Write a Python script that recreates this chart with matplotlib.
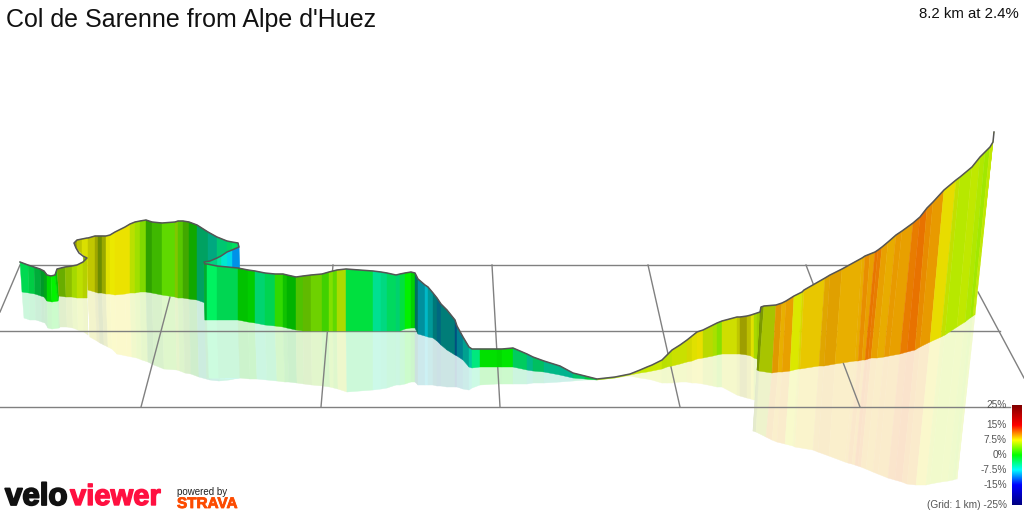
# plot.py
# VeloViewer 3D climb profile redrawn as a projected wall with a pale reflection

import matplotlib
matplotlib.use('Agg')
import matplotlib.pyplot as plt
import matplotlib.patheffects as pe
import numpy as np
from matplotlib.collections import PolyCollection
from matplotlib.colors import LinearSegmentedColormap

plt.rcParams['font.family'] = ['Liberation Sans', 'DejaVu Sans']

TITLE = "Col de Sarenne from Alpe d'Huez"
SUMMARY = "8.2 km at 2.4%"

# projected route. Sections in order:
# first stretch / fold + back wall / turn back / the long run to the summit
top_x = [20, 28, 34, 40, 44, 47, 51, 55, 57, 65, 72, 77, 83, 87,
         83, 79, 76,
         74, 77, 82, 87, 88, 95, 98, 102, 106, 110, 115, 125, 130, 135, 140, 146, 152, 162,
         175, 178, 183, 189, 197, 208, 217, 227, 232, 238,
         239, 232, 227, 221, 217, 210, 204,
         205, 207, 217, 238, 248, 255, 265, 275, 283, 287, 296, 303, 311, 322, 329,
         333, 337, 346, 373, 381, 387, 396, 400, 405, 411, 415, 418, 425, 428, 433,
         437, 441, 447, 455, 457,
         463, 469, 472, 480, 497, 502, 513, 527, 533, 544, 560, 573, 585, 597,
         615, 630, 640, 647, 652, 662, 667, 672, 680, 687, 692, 697, 703, 713, 717,
         722, 737, 740, 747, 751, 754, 757, 760,
         761, 764, 776, 782, 786, 794, 802, 804, 825, 830, 842, 862, 865, 870, 875,
         878, 882, 888, 896, 902, 913, 920, 927, 933, 944, 956, 960, 972, 980, 985, 990, 993, 994]
top_y = [262, 265, 267, 269, 271, 275, 276, 275, 269, 267, 266, 265, 262, 258,
         256, 253, 248,
         243, 240, 239, 238, 238, 236, 236, 236, 236, 235, 232, 227, 224, 222, 221, 220, 222, 223,
         222, 221, 221, 222, 225, 232, 237, 241, 242, 243,
         247, 250, 252, 256, 258, 261, 262,
         264, 264, 266, 268, 270, 271, 273, 274, 274, 275, 277, 276, 275, 274, 272,
         271, 270, 269, 271, 272, 273, 275, 274, 273, 272, 273, 279, 285, 287, 293,
         298, 304, 310, 320, 326,
         337, 347, 349, 349, 349, 349, 348, 354, 357, 361, 366, 373, 376, 379,
         377, 374, 370, 367, 365, 360, 355, 350, 345, 340, 336, 332, 330, 325, 323,
         321, 317, 317, 316, 315, 314, 313, 312,
         307, 306, 305, 303, 301, 296, 292, 290, 278, 275, 269, 258, 256, 254, 252,
         250, 247, 242, 235, 231, 223, 217, 208, 202, 190, 180, 177, 167, 157, 152, 147, 142, 132]
bot_x = [22, 29, 35, 41, 44, 47, 52, 58, 59, 66, 72, 77, 83, 87,
         83, 79, 76,
         74, 77, 82, 87, 88, 95, 98, 102, 106, 110, 115, 125, 130, 135, 140, 146, 152, 162,
         175, 178, 183, 189, 197, 208, 217, 227, 232, 238,
         240, 232, 227, 221, 217, 210, 205,
         205, 207, 217, 238, 248, 255, 265, 275, 283, 287, 296, 303, 311, 322, 329,
         333, 337, 346, 373, 381, 387, 396, 400, 405, 411, 415, 418, 425, 428, 433,
         437, 441, 447, 455, 457,
         463, 469, 472, 480, 497, 502, 513, 527, 533, 544, 560, 573, 585, 597,
         615, 630, 640, 647, 652, 662, 667, 672, 680, 687, 692, 697, 703, 713, 717,
         722, 737, 740, 747, 751, 754, 757, 760,
         757, 759, 772, 778, 782, 790, 798, 800, 819, 824, 835, 855, 858, 862, 865,
         868, 871, 877, 884, 889, 900, 907, 915, 920, 930, 941, 945, 957, 965, 970, 973, 974, 975]
bot_y = [292, 293, 294, 296, 297, 301, 302, 301, 296, 297, 297, 298, 298, 298,
         256, 253, 248,
         243, 249, 254, 258, 290, 292, 293, 293, 294, 294, 295, 294, 293, 293, 292, 292, 293, 295,
         297, 298, 298, 299, 300, 304, 307, 309, 311, 312,
         313, 314, 315, 316, 317, 318, 320,
         320, 320, 320, 320, 322, 323, 325, 326, 327, 328, 330, 331, 331, 331, 331,
         331, 331, 331, 331, 331, 331, 331, 331, 329, 328, 328, 334, 336, 337, 338,
         341, 345, 350, 355, 356,
         360, 367, 368, 367, 367, 367, 367, 370, 371, 372, 375, 378, 379, 380,
         378, 375, 373, 372, 371, 369, 367, 366, 364, 362, 361, 359, 358, 356, 355,
         354, 354, 354, 355, 356, 358, 359, 360,
         370, 371, 373, 372, 372, 371, 369, 369, 366, 366, 364, 361, 361, 360, 360,
         359, 358, 358, 357, 356, 354, 352, 350, 347, 342, 337, 335, 327, 322, 318, 316, 315, 315]
ref_x = [24, 30, 36, 42, 45, 48, 52, 59, 60, 67, 73, 78, 84, 88,
         83, 79, 76,
         74, 77, 82, 87, 90, 97, 100, 104, 108, 112, 117, 127, 132, 137, 142, 148, 154, 164,
         177, 180, 185, 191, 199, 210, 219, 229, 234, 240,
         245, 238, 232, 225, 220, 212, 207,
         207, 209, 219, 240, 250, 257, 267, 277, 285, 289, 297, 304, 312, 323, 330,
         334, 338, 347, 373, 381, 387, 396, 400, 405, 411, 415, 418, 425, 428, 433,
         437, 441, 447, 455, 457,
         463, 469, 472, 480, 497, 502, 513, 527, 533, 544, 560, 573, 585, 597,
         615, 630, 640, 647, 652, 662, 667, 672, 680, 687, 692, 697, 703, 713, 717,
         722, 737, 740, 747, 751, 754, 757, 760,
         753, 756, 766, 772, 777, 785, 793, 795, 813, 818, 829, 845, 848, 852, 855,
         858, 861, 866, 873, 878, 888, 895, 902, 907, 916, 926, 930, 941, 948, 953, 956, 957, 957]
ref_y = [318, 320, 320, 322, 323, 328, 329, 328, 327, 327, 328, 330, 332, 335,
         256, 253, 248,
         243, 249, 254, 258, 337, 341, 343, 345, 347, 349, 354, 356, 357, 358, 360, 362, 365, 369,
         370, 371, 373, 374, 377, 380, 381, 380, 379, 378,
         377, 378, 379, 379, 379, 379, 378,
         378, 378, 378, 378, 379, 379, 380, 381, 382, 382, 383, 384, 385, 386, 387,
         388, 389, 392, 390, 389, 388, 385, 385, 384, 382, 382, 385, 385, 385, 385,
         386, 386, 387, 387, 387,
         389, 390, 388, 385, 384, 384, 384, 384, 383, 383, 382, 381, 380, 380,
         378, 376, 378, 379, 380, 383, 383, 383, 382, 382, 383, 383, 384, 386, 387,
         387, 395, 396, 398, 399, 400, 400, 400,
         431, 432, 437, 440, 442, 444, 446, 447, 450, 452, 456, 462, 463, 464, 465,
         466, 467, 469, 472, 474, 478, 480, 482, 484, 485, 485, 484, 482, 481, 480, 479, 479, 479]

# gradient (%) and how lit the wall is, one value per stretch between two stations
grades = [-2.8, -2.5, -2.5, -2, -1, 0, 0, 0, 4.5, 5.5, 5.7, 6.3, 6.5,
          6, 6, 6, 6,
          7.2, 7.2, 7.3, 7.3, 7.3, 7.2, 5.8, 6.8, 7.5, 7.6, 7.8, 7.8, 6.2, 5.3, 4.4, 2.2, 2.6,
          3.3, 4.8, 3.3, 2.9, 0.7, -4.5, -5.7, -4.2, -3.5, -3.2,
          -10, -10.3, -8.1, -6.7, -5, -4.6, -3.5,
          -2, -2, -3, -2.9, 0, 0, -4, -2.9, 1.7, 0.6, 0, 3.1, 3.9, 4, 2.3, 4.3, 3.3, 5.8,
          -2.1, -4.8, -4.4, -3.3, -4, -2.1, 0, 0, -6.4, -8.2, -8.1, -7.5, -7.5, -8.9, -7.2, -7.2, -10.3,
          -8.3, -6.7, -6, -4.1, 0, 0, 0, -3.5, -5.5, -3.8, -5.5, -6, -4, -2,
          5.3, 6, 6.5, 6.3, 6.5, 6.5, 6.2, 6.3, 6.7, 6.7, 7.3, 7.5, 7.8, 6.4, 5.6,
          4.5, 7, 7.2, 7.5, 7.4, 7.5, 5.8, 5.8,
          6, 6, 6.4, 9.9, 9.3, 9.8, 7.1, 7.5, 8.5, 9.4, 9.6, 9.3, 9.4, 10.4, 9.8, 11.2,
          11, 9.8, 9.4, 10, 9.8, 11, 11.3, 10.5, 10, 7.9, 6.5, 5.9, 6.2, 5.7, 5.2, 6.2, 6.2]
lighting = [.85, .8, .68, .6, .65, .85, .95, .8, .68, .75, .85, .88, .82,
            .7, .7, .7, .7,
            .62, .78, .88, .88, .78, .65, .55, .66, .88, .92, .92, .92, .88, .88, .85, .63, .72,
            .85, .78, .78, .66, .66, .63, .66, .78, .82, .88,
            .9, .91, .91, .91, .91, .82, .82,
            .68, .68, .95, .84, .76, .8, .83, .83, .85, .76, .7, .76, .73, .82, .82, .88, .85, .86,
            .88, .88, .85, .85, .82, .88, .94, .82, .44, .62, .78, .6, .47, .5, .49, .49, .5,
            .56, .63, .78, .91, .88, .85, .9, .8, .72, .75, .72, .7, .78, .8,
            .88, .9, .91, .91, .91, .91, .88, .88, .88, .88, .85, .88, .91, .85, .88,
            .88, .87, .78, .62, .75, .88, .85, .8,
            .45, .6, .77, .88, .91, .91, .91, .85, .91, .88, .88, .91, .91, .91, .91, .91,
            .91, .91, .91, .91, .91, .91, .91, .91, .91, .91, .88, .91, .91, .91, .91, .91, .91]

# stretches per section, painted back to front below
n_first, n_back, n_turn = 13, 31, 7

grade_stops = [-25, -15, -7.5, 0, 7.5, 15, 25]
stop_colors = ['#000080', '#0000ff', '#00ffff', '#00ff00', '#ffff00', '#ff0000', '#800000']
legend_labels = ['25%', '15%', '7.5%', '0%', '-7.5%', '-15%', '(Grid: 1 km) -25%']
legend_pos = [25, 15, 7.5, 0, -7.5, -15, -25]

# 1 km grid on the ground plane
grid_rows_y = [265, 331, 407]
grid_rows_x0 = [20, 0, 0]
grid_rows_x1 = [860, 1000, 1010]
grid_far_x = [20, 170, 333, 492, 648, 806, 978]
grid_far_y = [265, 297, 265, 265, 265, 265, 292]
grid_near_x = [0, 141, 321, 500, 680, 860, 1024]
grid_near_y = [312, 407, 407, 407, 407, 407, 378]


def make_quads(xa, ya, xb, yb):
    return [[(xa[i], ya[i]), (xa[i + 1], ya[i + 1]), (xb[i + 1], yb[i + 1]), (xb[i], yb[i])]
            for i in range(len(xa) - 1)]


cmap = LinearSegmentedColormap.from_list(
    'grade', [((g + 25) / 50, c) for g, c in zip(grade_stops, stop_colors)], N=512)

rgb = cmap((np.array(grades) + 25) / 50)[:, :3] * np.array(lighting)[:, None]
pale = 0.2 * rgb + 0.8

fig, ax = plt.subplots(figsize=(10.24, 5.12), dpi=100)
fig.subplots_adjust(0, 0, 1, 1)
ax.axis('off')

first = list(range(n_first))
back = list(range(n_first, n_first + n_back + n_turn))
rest = list(range(n_first + n_back + n_turn, len(grades)))
order = back + first + rest

# reflection is flat pale colour, grid lies on it, wall hides both
ref_quads = make_quads(bot_x, bot_y, ref_x, ref_y)
ax.add_collection(PolyCollection([ref_quads[i] for i in order], facecolors=pale[order],
                                 edgecolors=pale[order], linewidths=0.3, zorder=1))

for y, x0, x1 in zip(grid_rows_y, grid_rows_x0, grid_rows_x1):
    ax.plot([x0, x1], [y, y], color='#808080', lw=1.0, zorder=2)
for xa, ya, xb, yb in zip(grid_far_x, grid_far_y, grid_near_x, grid_near_y):
    ax.plot([xa, xb], [ya, yb], color='#808080', lw=1.0, zorder=2)

quads = make_quads(top_x, top_y, bot_x, bot_y)
ax.add_collection(PolyCollection([quads[i] for i in order], facecolors=rgb[order],
                                 edgecolors=rgb[order], linewidths=0.3, zorder=3))
ax.plot(top_x, top_y, color='#555555', lw=1.1, zorder=4, solid_joinstyle='round')

# gradient legend
ramp = np.linspace(25, -25, 256).reshape(-1, 1)
ax.imshow(ramp, cmap=cmap, vmin=-25, vmax=25, aspect='auto',
          extent=(1012, 1022, 505, 405), zorder=5)
for label, g in zip(legend_labels, legend_pos):
    ax.text(1007, 455 - g * 2, label, ha='right', va='center', fontsize=7.3,
            color='#555555', zorder=6)

ax.text(6, 27, TITLE, fontsize=18.0, color='#111111', ha='left', va='baseline')
ax.text(1019, 18, SUMMARY, fontsize=10.8, color='#111111', ha='right', va='baseline')

# logos
ax.text(5, 505, 'velo', fontsize=22.5, fontweight='bold', color='#111111', va='baseline',
        path_effects=[pe.withStroke(linewidth=1.3, foreground='#111111')])
ax.text(70, 505, 'viewer', fontsize=21, fontweight='bold', color='#ff1040', va='baseline',
        path_effects=[pe.withStroke(linewidth=1.0, foreground='#ff1040')])
ax.text(177, 495, 'powered by', fontsize=7, color='#222222', va='baseline')
ax.text(177, 508, 'STRAVA', fontsize=11, fontweight='bold', color='#fc4c02', va='baseline',
        path_effects=[pe.withStroke(linewidth=0.6, foreground='#fc4c02')])

ax.set_xlim(0, 1024)
ax.set_ylim(512, 0)

fig.savefig('out.png', dpi=100, facecolor='white')
plt.close(fig)
